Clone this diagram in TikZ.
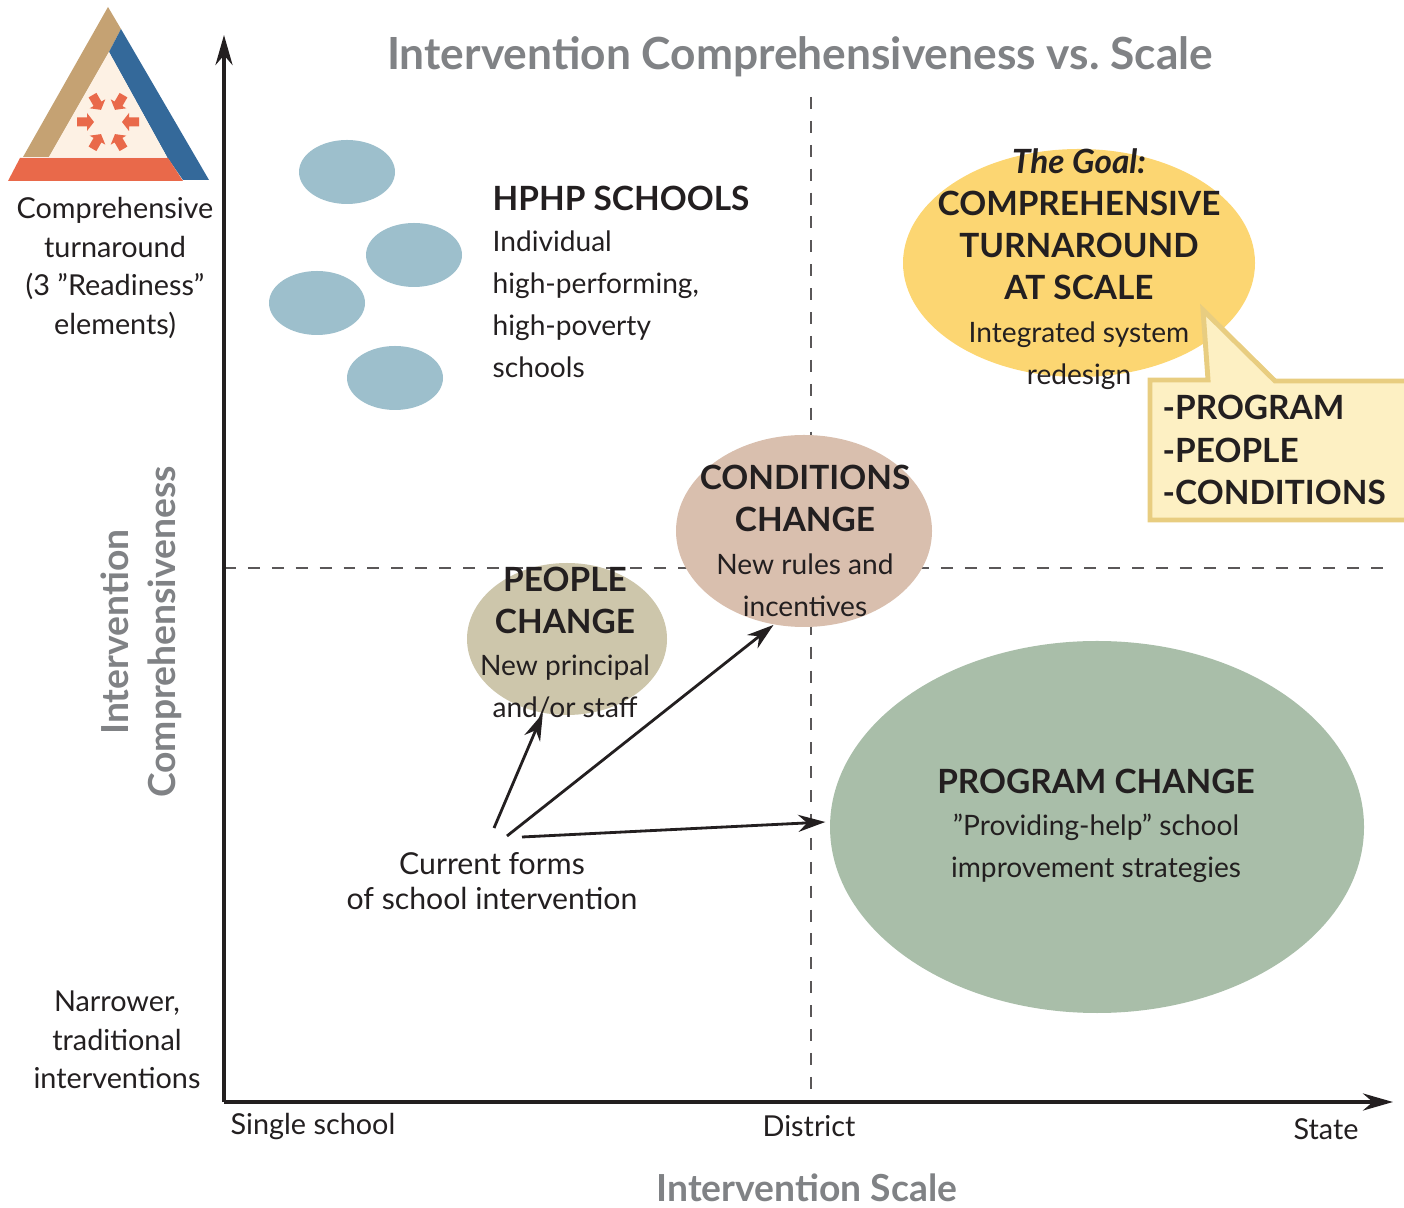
\documentclass[tikz,border=0pt]{standalone}
\usepackage{fontspec}
\setmainfont{Lato}
\usetikzlibrary{arrows.meta,shapes.geometric}

\definecolor{axisgray}{HTML}{808285}
\definecolor{inktext}{HTML}{231F20}
\definecolor{schoolblue}{HTML}{9DBFCC}
\definecolor{goalyellow}{HTML}{FCD672}
\definecolor{conditionsrose}{HTML}{D9BFAE}
\definecolor{peopletan}{HTML}{CDC6AB}
\definecolor{programgreen}{HTML}{A9BEA9}
\definecolor{calloutfill}{HTML}{FDF0C3}
\definecolor{calloutline}{HTML}{E8CD80}
\definecolor{triangletan}{HTML}{C5A273}
\definecolor{triangleblue}{HTML}{34699A}
\definecolor{triangleorange}{HTML}{E9694A}
\definecolor{trianglecream}{HTML}{FDF1E4}

\newcommand{\headfont}{\fontsize{9.5pt}{9.7pt}\bfseries\selectfont}
\newcommand{\bodyfont}{\fontsize{8pt}{9.1pt}\selectfont}

\tikzset{
    blob/.style={ellipse, inner sep=0pt},
    school/.style={blob, fill=schoolblue, minimum width=0.96cm, minimum height=0.64cm},
    plaintext/.style={text=inktext, align=center, inner sep=0pt, font=\fontsize{8.2pt}{11pt}\selectfont},
    boxtext/.style={text=inktext, align=center, inner sep=0pt},
    grayhead/.style={text=axisgray, inner sep=0pt, align=center, font=\fontsize{10.6pt}{13.5pt}\bfseries\selectfont},
    axisline/.style={line width=1.1pt, inktext, -{Stealth[length=0.3cm,width=0.17cm]}},
    guide/.style={line width=0.6pt, inktext!75, dash pattern=on 3.4pt off 3.4pt},
    pointer/.style={line width=0.8pt, inktext, -{Stealth[length=0.27cm,width=0.17cm]}}
}

\begin{document}
\begin{tikzpicture}
    \useasboundingbox (0,0) rectangle (14.04,12.07);

    % Logo triangle
    \fill[triangletan] (1.08,12.00) -- (1.21,11.78) -- (1.09,11.55) -- (0.49,10.50) -- (0.23,10.50) -- cycle;
    \fill[triangleblue] (1.21,11.78) -- (2.09,10.27) -- (1.83,10.27) -- (1.67,10.50) -- (1.09,11.55) -- cycle;
    \fill[triangleorange] (0.20,10.49) -- (1.68,10.49) -- (1.83,10.26) -- (0.08,10.26) -- cycle;
    \fill[trianglecream] (1.09,11.55) -- (1.67,10.50) -- (0.49,10.50) -- cycle;
    \foreach \dirangle in {0,60,...,300}
        \fill[triangleorange, shift={(1.08,10.85)}, rotate=\dirangle]
            (0.31,0.045) -- (0.21,0.045) -- (0.21,0.09) -- (0.14,0) -- (0.21,-0.09) -- (0.21,-0.045) -- (0.31,-0.045) -- cycle;

    % Guides and axes
    \coordinate (origin) at (2.24,1.05);
    \coordinate (ytop) at (2.24,11.72);
    \coordinate (xend) at (13.93,1.05);
    \coordinate (guidetop) at (8.11,11.10);
    \coordinate (guidebottom) at (8.11,1.05);
    \coordinate (guideleft) at (2.24,6.39);
    \coordinate (guideright) at (13.90,6.39);
    \draw[guide] (guidetop) -- (guidebottom);
    \draw[guide] (guideleft) -- (guideright);
    \draw[axisline] (origin) -- (ytop);
    \draw[axisline] (origin) -- (xend);

    % Titles
    \node[grayhead, font=\fontsize{12.6pt}{15pt}\bfseries\selectfont] (title) at (8.00,11.50) {Intervention Comprehensiveness vs.\ Scale};
    \node[grayhead] (xtitle) at (8.07,0.19) {Intervention Scale};
    \node[grayhead, rotate=90] (ytitle) at (1.41,5.75) {Intervention\\Comprehensiveness};

    % Axis labels
    \node[plaintext] (toplabel) at (1.15,9.39) {Comprehensive\\turnaround\\(3 "Readiness"\\elements)};
    \node[plaintext] (lowlabel) at (1.17,1.67) {Narrower,\\traditional\\interventions};
    \node[plaintext] (single) at (3.13,0.80) {Single school};
    \node[plaintext] (district) at (8.09,0.81) {District};
    \node[plaintext] (state) at (13.26,0.78) {State};

    % HPHP schools
    \node[school] (schoola) at (3.47,10.35) {};
    \node[school] (schoolb) at (4.14,9.52) {};
    \node[school] (schoolc) at (3.17,9.04) {};
    \node[school] (schoold) at (3.95,8.29) {};
    \node[boxtext, align=left, anchor=north west] (hphp) at (4.92,10.22) {{\headfont HPHP SCHOOLS}\\[-0.3pt]{\bodyfont Individual}\\{\bodyfont high-performing,}\\{\bodyfont high-poverty}\\{\bodyfont schools}};

    % Goal and callout
    \node[blob, fill=goalyellow, minimum width=3.52cm, minimum height=2.28cm] (goal) at (10.79,9.44) {};
    \draw[line width=1.4pt, calloutline, fill=calloutfill]
        (11.50,8.27) -- (12.08,8.27) -- (12.03,8.97) -- (12.75,8.26) -- (14.20,8.26) -- (14.20,6.87) -- (11.50,6.87) -- cycle;
    \node[boxtext] (goaltext) at (10.79,9.38) {{\headfont\itshape The Goal:}\\{\headfont COMPREHENSIVE}\\{\headfont TURNAROUND}\\{\headfont AT SCALE}\\{\bodyfont Integrated system}\\{\bodyfont redesign}};
    \node[boxtext, align=left, anchor=west] (callouttext) at (11.62,7.57) {{\headfont -PROGRAM}\\{\headfont -PEOPLE}\\{\headfont -CONDITIONS}};

    % Change ellipses
    \node[blob, fill=conditionsrose, minimum width=2.56cm, minimum height=1.92cm] (conditions) at (8.04,6.76) {};
    \node[boxtext] (conditionstext) at (8.05,6.66) {{\headfont CONDITIONS}\\{\headfont CHANGE}\\{\bodyfont New rules and}\\{\bodyfont incentives}};
    \node[blob, fill=peopletan, minimum width=2.00cm, minimum height=1.52cm] (people) at (5.67,5.68) {};
    \node[boxtext] (peopletext) at (5.65,5.64) {{\headfont PEOPLE}\\{\headfont CHANGE}\\{\bodyfont New principal}\\{\bodyfont and/or staff}};
    \node[blob, fill=programgreen, minimum width=5.34cm, minimum height=3.72cm] (program) at (10.97,3.80) {};
    \node[boxtext] (programtext) at (10.96,3.81) {{\headfont PROGRAM CHANGE}\\{\bodyfont "Providing-help" school}\\{\bodyfont improvement strategies}};

    % Arrows from current forms
    \node[plaintext, font=\fontsize{8.6pt}{10pt}\selectfont] (forms) at (4.92,3.26) {Current forms\\of school intervention};
    \coordinate (formspeople) at (4.94,3.79);
    \coordinate (formsconditions) at (5.07,3.71);
    \coordinate (formsprogram) at (5.22,3.70);
    \draw[pointer] (formspeople) -- (people.252);
    \draw[pointer] (formsconditions) -- (conditions.252);
    \draw[pointer] (formsprogram) -- ([xshift=-0.04cm,yshift=0.05cm]program.west);
\end{tikzpicture}
\end{document}
